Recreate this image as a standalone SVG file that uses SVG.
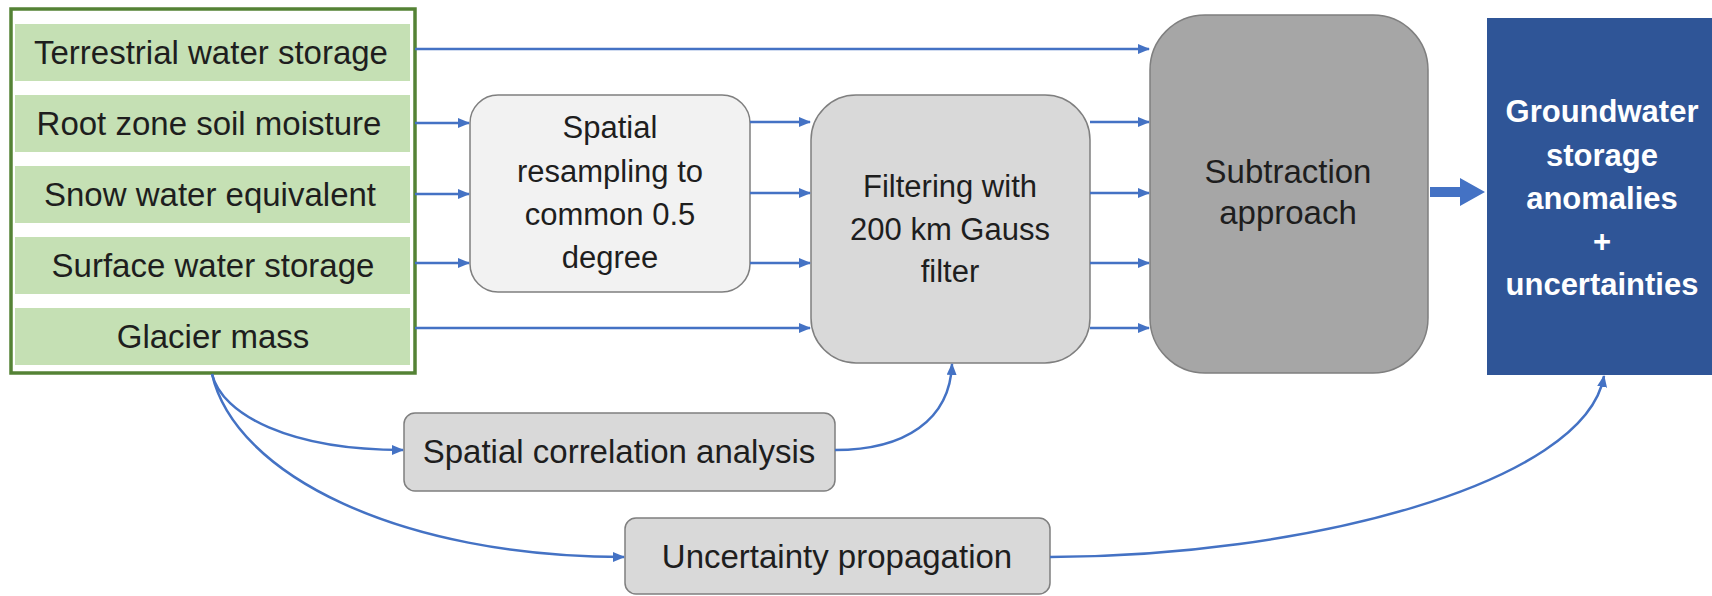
<svg xmlns="http://www.w3.org/2000/svg" width="1712" height="596" viewBox="0 0 1712 596">
<style>
text{font-family:"Liberation Sans",Arial,sans-serif;font-size:31px;fill:#1e1e1e;text-anchor:middle}
.big{font-size:33px}
.row{fill:#c5e0b4}
.c{fill:none;stroke:#4472c4;stroke-width:2.5}
.w{fill:#ffffff;font-weight:bold}
.box{stroke:#7f7f7f;stroke-width:1.5}
</style>
<defs>
<marker id="ah" markerUnits="userSpaceOnUse" markerWidth="12" markerHeight="10" refX="11" refY="5" orient="auto">
<path d="M0,0 L12,5 L0,10 z" fill="#4472c4"/>
</marker>
</defs>
<rect width="1712" height="596" fill="#ffffff"/>
<g id="inputs">
<rect x="11" y="9" width="404" height="364" fill="#ffffff" stroke="#548235" stroke-width="3.5"/>
<rect class="row" x="15" y="24" width="395" height="57"/>
<rect class="row" x="15" y="95" width="395" height="57"/>
<rect class="row" x="15" y="166" width="395" height="57"/>
<rect class="row" x="15" y="237" width="395" height="57"/>
<rect class="row" x="15" y="308" width="395" height="57"/>
<text class="big" x="211" y="64">Terrestrial water storage</text>
<text class="big" x="209" y="135">Root zone soil moisture</text>
<text class="big" x="210" y="206">Snow water equivalent</text>
<text class="big" x="213" y="277">Surface water storage</text>
<text class="big" x="213" y="348">Glacier mass</text>
</g>
<g id="resampling">
<rect class="box" x="470" y="95" width="280" height="197" rx="28" fill="#f2f2f2"/>
<text x="610" y="138">Spatial</text>
<text x="610" y="182">resampling to</text>
<text x="610" y="225">common 0.5</text>
<text x="610" y="268">degree</text>
</g>
<g id="filtering">
<rect class="box" x="811" y="95" width="279" height="268" rx="45" fill="#d9d9d9"/>
<text x="950" y="197">Filtering with</text>
<text x="950" y="240">200 km Gauss</text>
<text x="950" y="282">filter</text>
</g>
<g id="subtraction">
<rect class="box" x="1150" y="15" width="278" height="358" rx="55" fill="#a6a6a6"/>
<text class="big" x="1288" y="183">Subtraction</text>
<text class="big" x="1288" y="224">approach</text>
</g>
<g id="result">
<rect x="1487" y="18" width="225" height="357" fill="#2f5597"/>
<text class="w" x="1602" y="122">Groundwater</text>
<text class="w" x="1602" y="166">storage</text>
<text class="w" x="1602" y="209">anomalies</text>
<text class="w" x="1602" y="252">+</text>
<text class="w" x="1602" y="295">uncertainties</text>
</g>
<g id="correlation">
<rect class="box" x="404" y="413" width="431" height="78" rx="11" fill="#d9d9d9"/>
<text class="big" x="619" y="463">Spatial correlation analysis</text>
</g>
<g id="uncertainty">
<rect class="box" x="625" y="518" width="425" height="76" rx="11" fill="#d9d9d9"/>
<text class="big" x="837" y="568">Uncertainty propagation</text>
</g>
<g id="connectors">
<path class="c" d="M415,49 H1149" marker-end="url(#ah)"/>
<path class="c" d="M415,123 H469" marker-end="url(#ah)"/>
<path class="c" d="M415,194 H469" marker-end="url(#ah)"/>
<path class="c" d="M415,263 H469" marker-end="url(#ah)"/>
<path class="c" d="M415,328 H810" marker-end="url(#ah)"/>
<path class="c" d="M750,122 H810" marker-end="url(#ah)"/>
<path class="c" d="M750,193 H810" marker-end="url(#ah)"/>
<path class="c" d="M750,263 H810" marker-end="url(#ah)"/>
<path class="c" d="M1090,122 H1149" marker-end="url(#ah)"/>
<path class="c" d="M1090,193 H1149" marker-end="url(#ah)"/>
<path class="c" d="M1090,263 H1149" marker-end="url(#ah)"/>
<path class="c" d="M1090,328 H1149" marker-end="url(#ah)"/>
<path class="c" d="M212,374 C222,415 290,450 403,450" marker-end="url(#ah)"/>
<path class="c" d="M212,374 C235,475 400,557 624,557" marker-end="url(#ah)"/>
<path class="c" d="M835,450 C905,450 950,420 952,364" marker-end="url(#ah)"/>
<path class="c" d="M1050,557 C1300,557 1585,485 1604,376" marker-end="url(#ah)"/>
<path d="M1430,187 H1460 V178 L1485,192 L1460,206 V197 H1430 z" fill="#4472c4"/>
</g>
</svg>
